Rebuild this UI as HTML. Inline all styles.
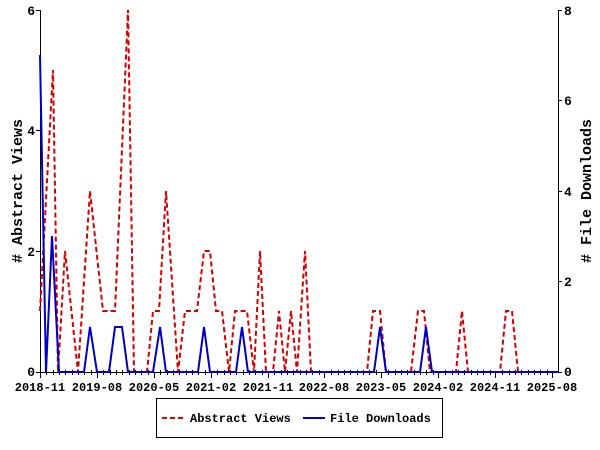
<!DOCTYPE html>
<html><head><style>body{margin:0;background:#fff}svg{display:block}</style></head><body>
<svg width="600" height="450" viewBox="0 0 600 450" xmlns="http://www.w3.org/2000/svg" font-family="Liberation Mono, DejaVu Sans Mono, monospace" font-weight="bold" font-size="12">
<rect width="600" height="450" fill="#fff"/>
<g stroke="#000" stroke-width="1" fill="none">
<line x1="40.5" y1="10" x2="40.5" y2="372"/>
<line x1="558.5" y1="10" x2="558.5" y2="372"/>
<line x1="40" y1="372.5" x2="558" y2="372.5"/>
<path d="M36 10.5h4M36 130.5h4M36 251.5h4M36 372.5h4M558 10.5h4M558 100.5h4M558 191.5h4M558 281.5h4M558 372.5h4"/>
<path d="M40.5 372v6M97.5 372v6M154.5 372v6M211.5 372v6M268.5 372v6M324.5 372v6M381.5 372v6M438.5 372v6M495.5 372v6M552.5 372v6"/>
<path d="M46.5 370v5M53.5 370v5M59.5 370v5M65.5 370v5M72.5 370v5M78.5 370v5M84.5 370v5M91.5 370v5M103.5 370v5M110.5 370v5M116.5 370v5M122.5 370v5M129.5 370v5M135.5 370v5M141.5 370v5M148.5 370v5M160.5 370v5M167.5 370v5M173.5 370v5M179.5 370v5M186.5 370v5M192.5 370v5M198.5 370v5M205.5 370v5M217.5 370v5M224.5 370v5M230.5 370v5M236.5 370v5M243.5 370v5M249.5 370v5M255.5 370v5M262.5 370v5M274.5 370v5M281.5 370v5M287.5 370v5M293.5 370v5M300.5 370v5M306.5 370v5M312.5 370v5M319.5 370v5M331.5 370v5M338.5 370v5M344.5 370v5M350.5 370v5M357.5 370v5M363.5 370v5M369.5 370v5M376.5 370v5M388.5 370v5M395.5 370v5M401.5 370v5M407.5 370v5M414.5 370v5M420.5 370v5M426.5 370v5M433.5 370v5M445.5 370v5M452.5 370v5M458.5 370v5M464.5 370v5M471.5 370v5M477.5 370v5M483.5 370v5M490.5 370v5M502.5 370v5M509.5 370v5M515.5 370v5M521.5 370v5M528.5 370v5M534.5 370v5M540.5 370v5M547.5 370v5"/>
</g>
<g fill="#000" text-anchor="end" font-size="13">
<text x="35" y="15">6</text><text x="35" y="135">4</text><text x="35" y="256">2</text><text x="35" y="376">0</text>
</g>
<g fill="#000" font-size="13">
<text x="564" y="15">8</text><text x="564" y="105">6</text><text x="564" y="196">4</text><text x="564" y="286">2</text><text x="564" y="376">0</text>
</g>
<g fill="#000" text-anchor="middle">
<text x="40" y="391">2018-11</text><text x="97" y="391">2019-08</text><text x="154" y="391">2020-05</text><text x="211" y="391">2021-02</text><text x="268" y="391">2021-11</text><text x="324" y="391">2022-08</text><text x="381" y="391">2023-05</text><text x="438" y="391">2024-02</text><text x="495" y="391">2024-11</text><text x="552" y="391">2025-08</text>
</g>
<text transform="translate(22,191) rotate(-90)" text-anchor="middle" font-size="15" fill="#000">#  Abstract Views</text>
<text transform="translate(591,191) rotate(-90)" text-anchor="middle" font-size="15" fill="#000"># File Downloads</text>
<polyline fill="none" stroke="#d00000" stroke-width="2" stroke-dasharray="5,3" points="40,311 53,70 58,372 65,251 78,372 90,191 103,311 115,311 128,10 134,372 147,372 153,311 159,311 166,191 178,372 185,311 197,311 204,251 210,251 216,311 222,311 229,372 235,311 247,311 254,372 260,251 266,372 273,372 279,311 285,372 291,311 297,372 305,251 311,372 367,372 373,311 380,311 386,372 411,372 418,311 424,311 430,372 456,372 462,311 468,372 500,372 506,311 512,311 518,372 558,372"/>
<polyline fill="none" stroke="#0000c0" stroke-width="2" points="40,55 46,372 52,236 59,372 84,372 90,327 97,372 109,372 115,327 122,327 128,372 153,372 160,327 166,372 198,372 204,327 210,372 236,372 242,327 248,372 374,372 380,327 386,372 420,372 426,327 432,372 558,372"/>
<rect x="156.5" y="398.5" width="286" height="39" fill="none" stroke="#000"/>
<line x1="162" y1="418" x2="183" y2="418" stroke="#d00000" stroke-width="2" stroke-dasharray="5,3"/>
<text x="190" y="422" fill="#000">Abstract Views</text>
<line x1="303" y1="418" x2="325" y2="418" stroke="#0000c0" stroke-width="2"/>
<text x="330" y="422" fill="#000">File Downloads</text>
</svg>
</body></html>
